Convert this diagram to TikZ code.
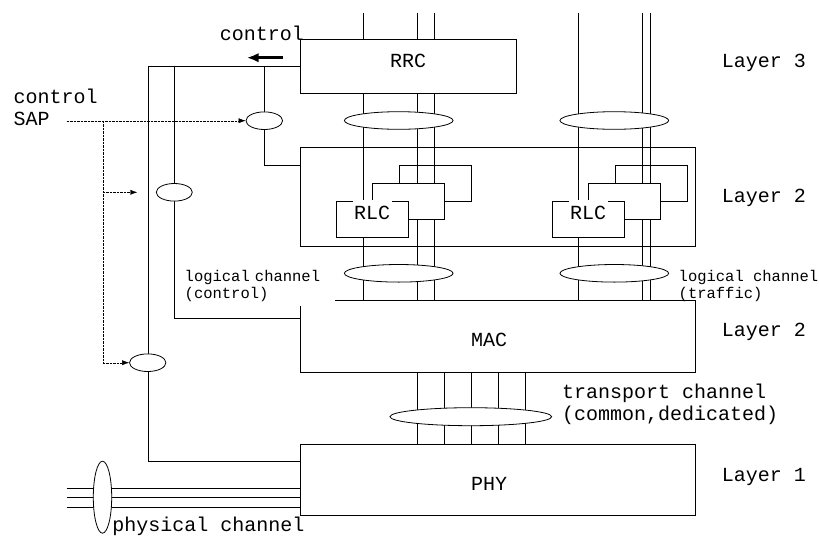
\documentclass[tikz,border=0pt]{standalone}
\usepackage{fontspec}
\newfontfamily\cour{Liberation Mono}
\usetikzlibrary{arrows.meta, positioning, shapes.geometric, backgrounds}

\begin{document}
\begin{tikzpicture}[
        x=1pt, y=-1pt, line width=0.8pt,
        blk/.style={draw, fill=white, inner sep=0pt},
        oval/.style={draw, fill=white, ellipse, inner sep=0pt},
        txt/.style={font=\cour\fontsize{20}{21.6}\selectfont, inner sep=0pt, anchor=base west, align=left},
        sml/.style={font=\cour\fontsize{15.5}{16.7}\selectfont, inner sep=0pt, anchor=base west, align=left},
        tag/.style={txt, anchor=base, fill=white, inner xsep=1.5pt, inner ysep=6pt, text height=13pt, text depth=0pt},
        sap/.style={densely dotted, -{Latex[length=7pt, width=5pt]}},
        >=Latex
    ]
        \useasboundingbox (0,0) rectangle (819,536);

        % layer boxes
        \node[blk, minimum width=216pt, minimum height=54pt] (rrc) at (408,66.3) {};
        \node[draw, inner sep=0pt, minimum width=395.7pt, minimum height=98.7pt] (l2) at (497.8,196.7) {};
        \node[blk, minimum width=395pt, minimum height=72pt] (mac) at (497.5,336.3) {};
        \node[blk, minimum width=395pt, minimum height=71pt] (phy) at (497.5,479.5) {};
        \node[txt, anchor=base] (rrclbl) at (408,67.7) {RRC};
        \node[txt, anchor=base] (maclbl) at (489,346.5) {MAC};
        \node[txt, anchor=base] (phylbl) at (489,490) {PHY};

        % RLC stacks
        \foreach \dx/\n in {0/a,216/b} {
            \node[draw, inner sep=0pt, minimum width=72pt, minimum height=36pt] (back\n) at (435+\dx,183) {};
            \node[blk, minimum width=72pt, minimum height=36pt] (mid\n) at (408+\dx,201) {};
            \node[blk, minimum width=72pt, minimum height=36pt] (front\n) at (372+\dx,219) {};
            \node[tag] (rlc\n) at (372+\dx,219) {RLC};
        }

        % channel bundles
        \node[oval, minimum width=108.7pt, minimum height=17.6pt] (lg1) at (398.7,120.5) {};
        \node[oval, minimum width=108.7pt, minimum height=17.6pt] (lg2) at (614.3,120.5) {};
        \node[oval, minimum width=108.7pt, minimum height=17.6pt] (lg3) at (398.7,273.3) {};
        \node[oval, minimum width=108.7pt, minimum height=17.6pt] (lg4) at (614.3,273.3) {};
        \node[oval, minimum width=161.7pt, minimum height=18pt] (tr) at (470.8,416.7) {};
        \node[oval, minimum width=18.4pt, minimum height=72pt] (ph) at (102.5,497.2) {};

        % control SAPs
        \node[oval, minimum width=36.6pt, minimum height=17.6pt] (sp1) at (264.3,120.7) {};
        \node[oval, minimum width=36pt, minimum height=17.6pt] (sp2) at (174.3,192.3) {};
        \node[oval, minimum width=36.4pt, minimum height=17.6pt] (sp3) at (147.7,362.7) {};

        % labels (align-only nodes sit on their last line)
        \node[txt] (ctl) at (219.5,40.5) {control};
        \node[txt] (sap) at (13.3,125) {control\\SAP};
        \node[sml, text width=150pt, fill=white, inner ysep=4.5pt] (lcc) at (184.3,281.7) {logical channel\\(control)};
        \node[sml] (lct) at (678.3,298.4) {logical channel\\(traffic)};
        \node[txt] (tch) at (561.7,420) {transport channel\\(common,dedicated)};
        \node[txt] (pch) at (112,531.5) {physical channel};
        \node[txt] (ly3) at (721.5,67.3) {Layer 3};
        \node[txt] (ly2a) at (721.5,202.3) {Layer 2};
        \node[txt] (ly2b) at (721.5,336.7) {Layer 2};
        \node[txt] (ly1) at (721.5,481) {Layer 1};

        \coordinate (j1) at (147.7,66.3);
        \coordinate (j2) at (174.3,66.3);
        \coordinate (j3) at (264.3,66.3);
        \coordinate (a1) at (283,57.7);
        \coordinate (a2) at (246.7,57.7);
        \coordinate (s0) at (66.7,120.7);
        \coordinate (s1) at (102.7,120.7);
        \coordinate (s2) at (102.7,192.3);
        \coordinate (s3) at (102.7,362.7);
        \coordinate (t2) at (137.3,192.3);

        \begin{pgfonlayer}{background}
            \foreach \x in {362.7,416.7,434.3,578.3,641.7,650}
                \draw (\x,13) -- (mac.north -| \x,0);
            \foreach \x in {416.7,443.7,470.7,497.7,524.7}
                \draw (mac.south -| \x,0) -- (phy.north -| \x,0);
            \foreach \y in {488.3,497.3,506.7}
                \draw (66.7,\y) -- (phy.west |- 0,\y);
            \draw[line width=1.6pt] (rrc.west) -- (j1);
            \draw (j1) -- (j1 |- 0,461) -- (phy.west |- 0,461);
            \draw (j2) -- (j2 |- 0,318.3) -- (mac.west |- 0,318.3);
            \draw (j3) -- (j3 |- 0,165) -- (l2.west |- 0,165);
        \end{pgfonlayer}

        \draw[line width=3pt, -{Latex[length=12pt, width=9.5pt]}] (a1) -- (a2);
        \draw[sap] (s0) -- (sp1.west);
        \draw[densely dotted] (s1) -- (s3);
        \draw[sap] (s2) -- (t2);
        \draw[sap] (s3) -- (sp3.west);
    \end{tikzpicture}
\end{document}
